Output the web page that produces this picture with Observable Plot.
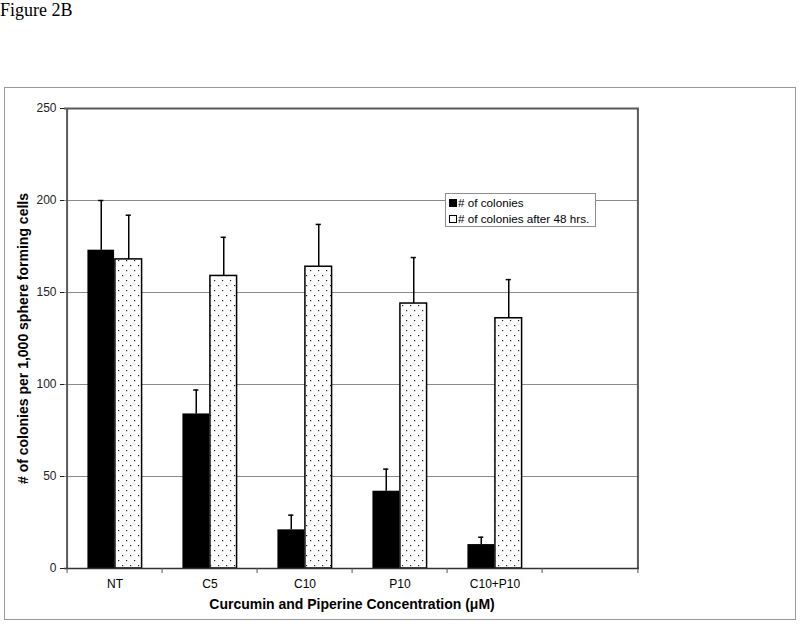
<!DOCTYPE html>
<html><head><meta charset="utf-8">
<script src="https://cdn.jsdelivr.net/npm/d3@7"></script>
<script src="https://cdn.jsdelivr.net/npm/@observablehq/plot@0.6"></script>
<style>
body{margin:0;background:#fff;width:800px;height:627px;position:relative;overflow:hidden;font-family:"Liberation Sans",Arial,sans-serif;}
#title{position:absolute;left:0;top:0;font-family:"Liberation Serif","Times New Roman",serif;font-size:18px;line-height:20px;}
#chart{position:absolute;left:4px;top:87px;border:1px solid #9a9a9a;width:790px;height:531px;}
#chart svg{display:block;}
#legend{position:absolute;left:445px;top:193px;width:151px;height:34px;border:1px solid #8c8c8c;background:#fff;font-size:11.7px;line-height:16px;box-sizing:border-box;padding-top:1px;}
.row{display:flex;align-items:center;padding-left:3px;height:16px;}
.sq{width:8px;height:8px;margin-right:1px;box-sizing:border-box;display:inline-block;}
</style></head>
<body>
<div id="title">Figure 2B</div>
<div id="chart"></div>
<div id="legend"></div>
<script>
const categories = ["NT", "C5", "C10", "P10", "C10+P10"];
const colonies = [173, 84, 21, 42, 13];
const coloniesErr = [27, 13, 8, 12, 4];
const after48 = [168, 159, 164, 144, 136];
const after48Err = [24, 21, 23, 25, 21];
const yTicks = [0, 50, 100, 150, 200, 250];
const seriesNames = ["# of colonies", "# of colonies after 48 hrs."];
const yTitle = "# of colonies per 1,000 sphere forming cells";
const xTitle = "Curcumin and Piperine Concentration (\u03bcM)";

const slots = [...categories, ""];
const W = 790, H = 531, ML = 59, MR = 156, MT = 20, MB = 51;
const plotH = H - MT - MB;
const step = (W - ML - MR) / slots.length;
const barW = 27.5;

const s1 = categories.map((c, i) => ({cat: c, v: colonies[i], hi: colonies[i] + coloniesErr[i]}));
const s2 = categories.map((c, i) => ({cat: c, v: after48[i], hi: after48[i] + after48Err[i]}));

const chart = Plot.plot({
  width: W, height: H,
  marginLeft: ML, marginRight: MR, marginTop: MT, marginBottom: MB,
  style: {fontFamily: "Liberation Sans, Arial, sans-serif", background: "white", color: "black"},
  x: {type: "band", domain: slots, padding: 0, axis: null},
  y: {domain: [0, 250], axis: null},
  marks: [
    Plot.ruleY(yTicks.filter(t => t > 0 && t < 250), {stroke: "#8a8a8a", strokeWidth: 1}),
    Plot.ruleY([250], {stroke: "#5a5a5a", strokeWidth: 2}),
    Plot.ruleX([slots[slots.length - 1]], {dx: step / 2, stroke: "#5a5a5a", strokeWidth: 2}),
    // error bars
    Plot.ruleX(s1, {x: "cat", y1: "v", y2: "hi", dx: -barW / 2, stroke: "black", strokeWidth: 1.5}),
    Plot.tickY(s1, {x: "cat", y: "hi", dx: -barW / 2, insetLeft: step / 2 - 3, insetRight: step / 2 - 3, stroke: "black", strokeWidth: 1.5}),
    Plot.ruleX(s2, {x: "cat", y1: "v", y2: "hi", dx: barW / 2, stroke: "black", strokeWidth: 1.5}),
    Plot.tickY(s2, {x: "cat", y: "hi", dx: barW / 2, insetLeft: step / 2 - 3, insetRight: step / 2 - 3, stroke: "black", strokeWidth: 1.5}),
    // bars
    Plot.barY(s1, {x: "cat", y: "v", fill: "black", insetLeft: step / 2 - barW, insetRight: step / 2}),
    Plot.barY(s2, {x: "cat", y: "v", fill: "url(#dots)", stroke: "black", strokeWidth: 1.5, insetLeft: step / 2, insetRight: step / 2 - barW}),
    // axes lines
    Plot.ruleX([slots[0]], {dx: -step / 2, stroke: "#5a5a5a", strokeWidth: 2}),
    Plot.ruleY([0], {stroke: "#333", strokeWidth: 1.5}),
    Plot.ruleX(slots, {dx: -step / 2, insetTop: plotH, insetBottom: -5, stroke: "#555"}),
    Plot.ruleX([slots[slots.length - 1]], {dx: step / 2, insetTop: plotH, insetBottom: -5, stroke: "#555"}),
    Plot.axisY({ticks: yTicks, tickSize: 4, tickPadding: 4, fontSize: 12, label: null, color: "#222"}),
    Plot.axisX({tickSize: 0, tickPadding: 11, fontSize: 12, label: null}),
    Plot.text([yTitle], {text: d => d, frameAnchor: "left", textAnchor: "middle", dx: -41, rotate: -90, fontWeight: "bold", fontSize: 14, fill: "black"}),
    Plot.text([xTitle], {text: d => d, frameAnchor: "bottom", textAnchor: "middle", dy: 40, fontWeight: "bold", fontSize: 14, fill: "black"})
  ]
});

const ns = "http://www.w3.org/2000/svg";
const defs = document.createElementNS(ns, "defs");
defs.innerHTML = '<pattern id="dots" patternUnits="userSpaceOnUse" width="8" height="10">' +
  '<rect width="8" height="10" fill="white"/>' +
  '<rect x="1" y="2" width="1.2" height="1.2" fill="#222"/>' +
  '<rect x="5" y="7" width="1.2" height="1.2" fill="#222"/></pattern>';
chart.insertBefore(defs, chart.firstChild);
document.getElementById("chart").appendChild(chart);

const legend = document.getElementById("legend");
legend.innerHTML =
  `<div class="row"><span class="sq" style="background:black"></span>${seriesNames[0]}</div>` +
  `<div class="row"><span class="sq" style="background:white;border:1px solid black"></span>${seriesNames[1]}</div>`;
</script>
</body></html>
